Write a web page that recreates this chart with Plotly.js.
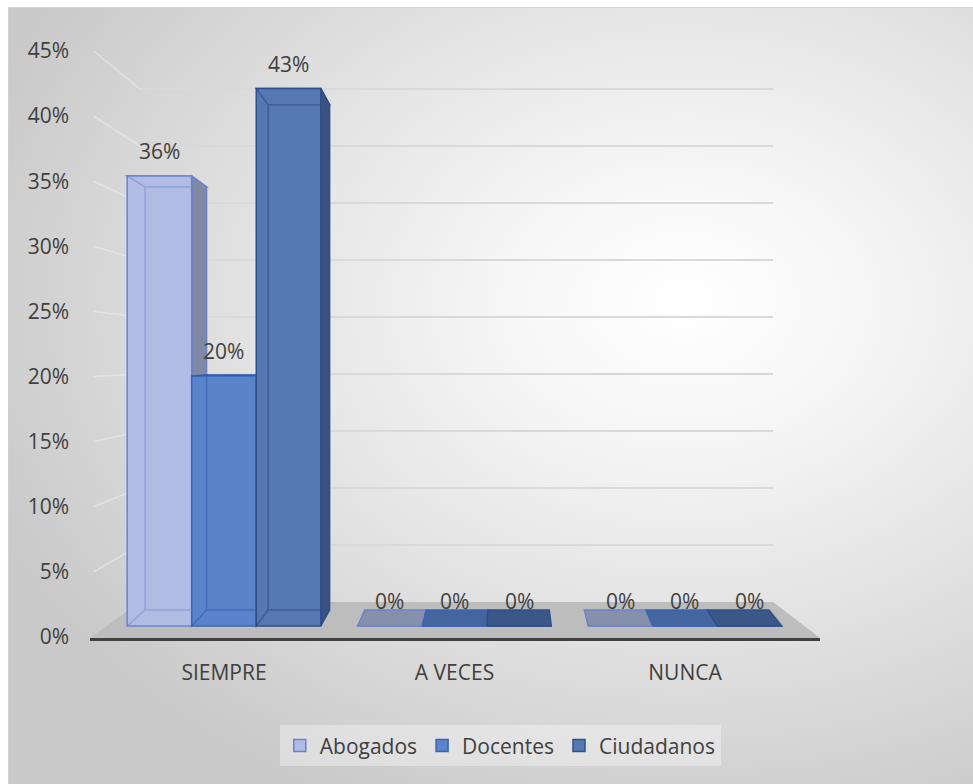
<!DOCTYPE html>
<html><head><meta charset="utf-8">
<script src="https://cdn.plot.ly/plotly-3.0.1.min.js"></script>
<style>
html,body{margin:0;padding:0;background:#fff;overflow:hidden;}
#wrap{position:absolute;left:8px;top:7px;width:965px;height:777px;border-left:1px solid #cfcfcf;border-top:1px solid #d6d6d6;
background:radial-gradient(ellipse 78% 72% at 70% 38%, #ffffff 0%, #f7f7f7 22%, #e6e6e6 52%, #d4d4d4 82%, #c9c9c9 100%);}
#chart{width:965px;height:777px;}
</style></head>
<body><div id="wrap"><div id="chart"></div></div>
<script>
// ---- data ----
const categories = ['SIEMPRE', 'A VECES', 'NUNCA'];
const seriesNames = ['Abogados', 'Docentes', 'Ciudadanos'];
const abogados = [0.36, 0, 0];
const docentes = [0.20, 0, 0];
const ciudadanos = [0.43, 0, 0];
const yTickVals = [0, 0.05, 0.10, 0.15, 0.20, 0.25, 0.30, 0.35, 0.40, 0.45];
const yTickText = ['0%', '5%', '10%', '15%', '20%', '25%', '30%', '35%', '40%', '45%'];

// ---- styles ----
const FONT = 'Open Sans, Noto Sans, sans-serif';
const FS = 21;
const TXT = '#404040';
const frontCol = ['#b0bce3', '#5a84ca', '#5577b2'];
const borderCol = ['#6a82cc', '#3a64b4', '#2e4f8c'];
const sideCol = ['#7f89a3', '#3f5f9c', '#3c5182'];
const slabCol = ['#8790aa', '#44659e', '#3b5787'];
const innerCol = ['rgba(106,130,204,0.45)', 'rgba(40,80,160,0.45)', 'rgba(30,60,120,0.45)'];

const series = [abogados, docentes, ciudadanos];
const W = 0.28;                 // bar width (category units)
const xRange = [-0.5813, 2.5857];
const yRange = [-0.0096, 0.4688];      // front-face scale
const labelRange = [-0.00077, 0.45845]; // tick label scale
const wallRange = [-0.0316, 0.4930];    // back wall scale
const vpX = 1.232, vpY = 0.2136, kx = 0.953, ky = 0.94;
const wallL = 0.0685, wallR = 0.9356;

const bx = x => vpX + (x - vpX) * kx;
const by = y => vpY + (y - vpY) * ky;
const labelPaper = v => (v - labelRange[0]) / (labelRange[1] - labelRange[0]);
const wallPaper = v => (v - wallRange[0]) / (wallRange[1] - wallRange[0]);

const shapes = [];
// floor
shapes.push({type: 'path', xref: 'paper', yref: 'paper', layer: 'below',
  path: `M0,0 L${wallL},${wallPaper(0)} L${wallR},${wallPaper(0)} L1,0 Z`,
  fillcolor: '#bdbdbd', line: {width: 0}});
// gridlines on back wall + left wall
yTickVals.forEach(v => {
  if (v === 0) return;
  shapes.push({type: 'line', xref: 'paper', yref: 'paper', layer: 'below',
    x0: wallL, x1: wallR, y0: wallPaper(v), y1: wallPaper(v),
    line: {color: '#d9d9d9', width: 2}});
  shapes.push({type: 'line', xref: 'paper', yref: 'paper', layer: 'below',
    x0: 0.005, x1: wallL, y0: labelPaper(v), y1: wallPaper(v),
    line: {color: 'rgba(236,236,236,0.6)', width: 1.5}});
});

const traces = [];
const annotations = [];
series.forEach((vals, s) => {
  const off = (s - 1) * W;
  traces.push({
    type: 'bar', name: seriesNames[s], x: categories.map((c, i) => i), y: vals,
    width: W, offset: off - W / 2,
    marker: {color: frontCol[s], line: {color: borderCol[s], width: 1.5}},
    hoverinfo: 'skip'
  });
  vals.forEach((v, i) => {
    const xc = i + off, xl = xc - W / 2, xr = xc + W / 2;
    // top face
    shapes.push({type: 'path', xref: 'x', yref: 'y', layer: 'below',
      path: `M${xl},${v} L${xr},${v} L${bx(xr)},${by(v)} L${bx(xl)},${by(v)} Z`,
      fillcolor: slabCol[s], line: {color: borderCol[s], width: 1.5}});
    if (v > 0 && xr < vpX) {
      shapes.push({type: 'path', xref: 'x', yref: 'y', layer: 'below',
        path: `M${xr},${v} L${bx(xr)},${by(v)} L${bx(xr)},${by(0)} L${xr},0 Z`,
        fillcolor: sideCol[s], line: {color: borderCol[s], width: 1.5}});
    }
    if (v > 0) {
      const xe = Math.min(bx(xr), xr);
      shapes.push({type: 'path', xref: 'x', yref: 'y', layer: 'above',
        path: `M${xl},${v} L${bx(xl)},${by(v)} L${xe},${by(v)} M${bx(xl)},${by(v)} L${bx(xl)},${by(0)} L${xe},${by(0)} M${xl},0 L${bx(xl)},${by(0)}`,
        line: {color: innerCol[s], width: 1.5}});
    }
    annotations.push({x: xc, y: v, xref: 'x', yref: 'y', text: Math.round(v * 100) + '%',
      showarrow: false, yanchor: 'middle', yshift: 25,
      font: {family: FONT, size: FS, color: TXT}});
  });
});

const layout = {
  width: 965, height: 777,
  margin: {l: 81, r: 154, t: 32, b: 147},
  paper_bgcolor: 'rgba(0,0,0,0)', plot_bgcolor: 'rgba(0,0,0,0)',
  font: {family: FONT, size: FS, color: TXT},
  barmode: 'overlay',
  showlegend: true,
  xaxis: {range: xRange, tickvals: [0, 1, 2], ticktext: categories, showgrid: false, zeroline: false,
    showline: true, linecolor: '#404040', linewidth: 3, ticks: '', ticklabelstandoff: 14,
    tickfont: {family: FONT, size: FS, color: TXT}, fixedrange: true},
  yaxis: {range: yRange, showticklabels: false, showgrid: false, zeroline: false, showline: false, fixedrange: true},
  yaxis2: {range: labelRange, overlaying: 'y', side: 'left', tickvals: yTickVals, ticktext: yTickText,
    showgrid: false, zeroline: false, showline: false, ticks: '', ticklabelstandoff: 20,
    tickfont: {family: FONT, size: FS, color: TXT}, fixedrange: true},
  legend: {orientation: 'h', x: 0.562, xanchor: 'center', y: -0.146, yanchor: 'top',
    bgcolor: 'rgba(255,255,255,0.35)', font: {family: FONT, size: FS, color: TXT}, itemwidth: 30},
  shapes: shapes,
  annotations: annotations
};
// invisible helper trace so that yaxis2 (tick labels) is drawn
traces.push({type: 'scatter', x: [0], y: [0], yaxis: 'y2', mode: 'markers', marker: {opacity: 0}, showlegend: false, hoverinfo: 'skip'});

Plotly.newPlot('chart', traces, layout, {displayModeBar: false, staticPlot: true});
</script>
</body></html>
